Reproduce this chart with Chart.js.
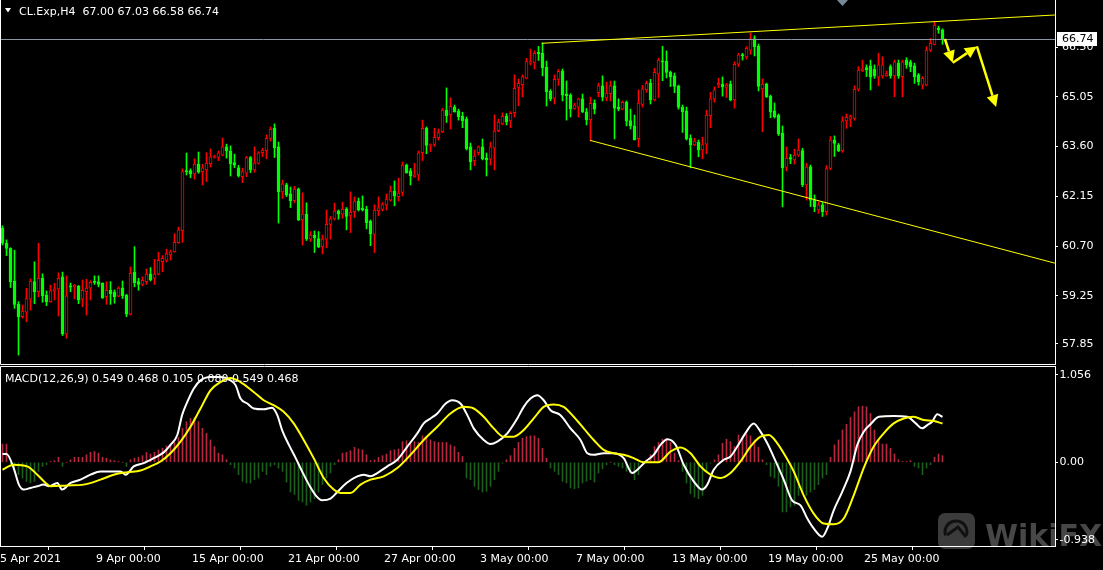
<!DOCTYPE html>
<html>
<head>
<meta charset="utf-8">
<script src="https://cdn.jsdelivr.net/npm/chart.js@4.4.1/dist/chart.umd.min.js"></script>
<style>
  html, body { margin: 0; padding: 0; background: #000; }
  #wrap { position: relative; width: 1103px; height: 570px; background: #000; overflow: hidden; }
  #price { position: absolute; left: 0; top: 0; }
  #macd { position: absolute; left: 0; top: 365px; }
</style>
</head>
<body>
<div id="wrap">
  <canvas id="price" width="1103" height="365"></canvas>
  <canvas id="macd" width="1103" height="205"></canvas>
</div>
<script>
// CL.Exp H4 candles, bar 0 = 5 Apr 2021 00:00
const opens = [
  61.22,60.78,60.63,59.68,59.00,58.64,58.77,59.15,59.66,59.37,
  59.76,59.27,59.08,59.39,59.45,59.80,58.14,59.54,59.51,59.53,
  59.15,59.37,59.47,59.66,59.66,59.61,59.22,59.41,59.36,59.24,
  59.47,59.27,58.71,59.94,59.66,59.58,59.66,59.88,59.76,59.88,
  60.24,60.29,60.44,60.53,60.80,61.15,62.89,62.90,62.80,63.09,
  62.87,62.92,63.10,63.28,63.28,63.35,63.59,63.47,63.13,62.98,
  62.72,62.82,63.28,62.92,63.11,63.42,63.48,63.84,64.13,63.59,
  62.28,62.48,62.22,62.02,62.36,61.46,61.63,60.91,61.02,60.92,
  60.68,60.90,61.33,61.49,61.72,61.63,61.78,61.59,61.70,62.01,
  61.80,61.78,61.43,61.04,61.73,61.77,61.90,62.04,62.30,62.14,
  62.26,63.06,62.89,62.72,62.77,63.42,64.14,63.63,63.66,63.86,
  64.03,64.66,64.53,64.75,64.63,64.48,64.40,63.59,63.19,63.42,
  63.59,63.27,63.23,63.55,64.06,64.26,64.49,64.35,64.59,65.32,
  65.40,65.59,66.03,66.05,66.35,66.32,65.91,65.22,65.01,65.56,
  65.80,65.13,65.10,64.71,64.75,64.99,64.61,64.38,64.87,65.17,
  65.37,65.02,65.14,65.37,64.75,64.69,64.89,64.36,64.20,63.83,
  64.83,65.25,65.44,64.96,65.72,66.09,66.09,65.77,65.66,65.37,
  64.75,64.64,63.84,63.65,63.72,63.50,63.67,64.50,64.99,65.39,
  65.42,65.32,65.42,64.96,66.00,66.28,66.21,66.41,66.75,66.53,
  65.28,65.42,65.07,64.64,64.52,63.99,62.99,63.28,63.21,63.35,
  63.48,62.48,63.01,62.04,61.75,61.90,61.70,62.96,63.79,63.65,
  63.48,64.35,64.40,64.42,65.27,65.81,65.90,65.95,65.85,65.62,
  65.66,65.66,65.93,65.66,66.03,65.64,66.12,66.07,65.95,65.69,
  65.39,65.39,66.41,66.58,67.05,67.00
];
const highs = [
  61.29,60.88,60.65,60.58,59.08,58.98,59.47,59.74,60.24,60.78,
  59.89,59.39,59.56,59.61,59.92,59.94,59.83,59.62,59.58,59.55,
  59.71,59.73,59.69,59.83,59.83,59.63,59.66,59.66,59.42,59.51,
  59.68,59.29,60.09,60.68,59.76,59.80,60.03,60.07,60.31,60.52,
  60.42,60.61,60.58,61.06,61.25,62.95,63.41,62.95,63.24,63.44,
  63.08,63.42,63.53,63.35,63.47,63.85,63.67,63.62,63.38,63.05,
  62.97,63.31,63.31,63.59,63.45,63.55,63.94,64.17,64.26,63.73,
  62.62,62.53,62.42,62.44,62.39,62.25,61.96,61.12,61.14,61.12,
  61.02,61.75,61.56,61.95,61.75,61.98,61.82,62.28,62.13,62.10,
  62.16,61.86,61.46,61.90,62.13,61.97,62.22,62.45,62.60,62.68,
  63.15,63.09,62.96,63.11,63.47,64.37,64.17,63.68,64.13,64.11,
  64.71,65.31,65.02,64.81,64.69,64.60,64.46,63.70,63.50,63.62,
  63.82,63.41,63.73,64.52,64.40,64.58,64.56,64.62,65.69,65.57,
  65.69,66.17,66.44,66.39,66.52,66.62,66.09,65.26,65.69,65.85,
  65.86,65.51,65.14,64.86,65.01,65.13,64.71,65.04,64.96,65.45,
  65.66,65.48,65.51,65.51,64.99,64.93,64.93,64.69,64.52,65.25,
  65.38,65.51,65.56,65.88,66.17,66.52,66.39,65.80,65.74,65.39,
  64.81,64.75,63.94,63.84,63.79,63.87,64.66,65.18,65.34,65.59,
  65.63,65.44,65.51,66.07,66.32,66.32,66.51,66.91,66.83,66.59,
  65.57,65.45,65.10,64.87,64.55,64.20,63.59,63.37,63.52,63.82,
  63.55,63.11,63.06,62.19,61.99,61.97,63.04,63.89,63.91,63.69,
  64.47,64.55,64.52,65.37,65.93,66.12,65.98,66.12,65.98,66.32,
  66.22,65.80,65.98,66.12,66.12,66.12,66.19,66.12,66.03,65.73,
  65.64,66.51,66.75,67.24,67.11,67.03
];
const lows = [
  60.73,60.42,59.49,58.88,57.52,58.60,58.49,58.83,59.02,59.22,
  59.06,58.96,59.06,59.13,58.66,58.09,58.01,59.37,59.16,59.02,
  58.93,58.69,59.13,59.58,59.51,59.17,59.00,59.00,59.03,59.22,
  59.17,58.64,58.69,59.51,59.41,59.54,59.58,59.68,59.58,59.86,
  59.95,60.24,60.29,60.52,60.78,60.81,62.77,62.69,62.65,62.82,
  62.48,62.58,63.00,63.26,63.19,63.33,63.26,62.74,62.98,62.71,
  62.55,62.72,62.84,62.85,63.09,63.31,63.24,63.76,63.28,61.37,
  62.09,62.14,61.82,61.96,61.44,60.73,60.86,60.83,60.51,60.65,
  60.47,60.65,60.90,61.46,61.48,61.51,61.17,61.09,61.53,61.72,
  61.72,61.20,60.71,60.51,61.58,61.72,61.75,62.01,61.87,62.01,
  62.16,62.82,62.48,62.70,62.61,63.19,63.39,63.45,63.60,63.79,
  64.01,64.30,64.11,64.60,64.37,64.15,63.50,62.92,63.04,63.35,
  63.21,62.74,63.06,62.92,64.03,64.23,64.23,64.15,64.46,64.79,
  65.05,65.57,65.98,65.86,66.11,65.66,64.78,64.93,64.84,65.38,
  64.93,64.37,64.46,64.69,64.46,64.59,64.23,63.76,64.55,65.05,
  64.93,64.93,64.93,63.82,64.64,64.67,64.20,64.11,63.79,63.59,
  64.75,65.18,64.84,64.93,65.03,65.52,65.60,65.35,65.17,64.69,
  64.01,63.79,62.98,63.62,63.30,63.24,63.39,64.15,64.89,65.32,
  65.07,65.03,64.93,64.72,65.93,66.12,66.15,66.29,66.24,65.22,
  64.03,65.03,64.44,64.43,63.92,61.84,62.89,63.10,63.09,63.31,
  62.43,62.04,61.85,61.70,61.65,61.56,61.60,62.92,63.31,63.45,
  63.43,64.13,64.18,64.37,65.22,65.78,65.64,65.25,65.59,65.37,
  65.59,65.64,65.59,65.05,65.59,65.05,65.88,65.78,65.44,65.39,
  65.28,65.37,66.37,66.56,66.90,66.58
];
const closes = [
  60.78,60.63,59.66,59.00,58.64,58.80,59.17,59.68,59.37,59.76,
  59.25,59.08,59.39,59.45,59.76,58.14,59.25,59.51,59.56,59.13,
  59.41,59.47,59.64,59.64,59.58,59.19,59.41,59.31,59.22,59.47,
  59.25,58.71,59.90,59.63,59.58,59.70,59.88,59.71,59.88,60.28,
  60.34,60.47,60.53,60.81,61.17,62.87,62.87,62.80,63.09,62.85,
  62.98,63.12,63.30,63.31,63.42,63.59,63.47,63.10,63.06,62.74,
  62.87,63.28,62.92,63.12,63.42,63.50,63.84,64.11,63.57,62.28,
  62.51,62.19,62.02,62.36,61.46,61.63,60.91,61.02,60.94,60.68,
  60.90,61.33,61.49,61.72,61.63,61.77,61.56,61.68,62.01,61.75,
  61.75,61.38,61.05,61.75,61.81,61.91,62.07,62.30,62.16,62.24,
  63.06,62.84,62.75,62.77,63.42,64.13,63.63,63.66,63.87,64.01,
  64.66,64.50,64.77,64.62,64.47,64.35,63.54,63.16,63.32,63.59,
  63.24,63.21,63.59,64.05,64.31,64.48,64.32,64.57,65.30,65.44,
  65.63,66.08,66.08,66.32,66.30,65.90,65.20,64.99,65.56,65.79,
  65.10,65.08,64.70,64.81,64.99,64.62,64.38,64.86,64.69,65.37,
  65.04,65.16,65.37,64.72,64.69,64.89,64.34,64.20,63.79,64.87,
  65.28,65.44,64.96,65.76,66.12,66.07,65.76,65.64,65.35,64.75,
  64.62,63.82,63.65,63.76,63.50,63.66,64.52,64.99,65.25,65.44,
  65.34,65.39,64.96,66.00,66.27,66.25,66.46,66.75,66.51,65.35,
  65.42,65.05,64.62,64.46,63.97,62.98,63.26,63.23,63.35,63.50,
  62.48,63.01,62.04,61.85,61.90,61.70,62.96,63.79,63.69,63.48,
  64.35,64.45,64.47,65.27,65.83,65.86,65.83,65.62,65.66,65.98,
  65.98,65.73,65.66,66.07,65.66,66.07,65.98,65.93,65.64,65.49,
  65.59,66.41,66.61,67.14,67.00,66.74
];

// MACD(12,26,9) histogram, one value per bar
const macdHist = [
  0.22,0.22,-0.02,-0.06,-0.15,-0.19,-0.23,-0.25,-0.23,-0.11,
  -0.05,-0.03,0.01,0.02,0.06,-0.05,0.00,0.03,0.06,0.06,
  0.06,0.09,0.12,0.13,0.11,0.06,0.05,0.03,0.02,0.01,
  0.00,-0.05,0.03,0.05,0.06,0.08,0.12,0.10,0.12,0.15,
  0.17,0.20,0.21,0.24,0.30,0.41,0.49,0.53,0.54,0.49,
  0.41,0.35,0.27,0.19,0.11,0.09,0.03,-0.03,-0.07,-0.15,
  -0.23,-0.25,-0.25,-0.21,-0.19,-0.11,-0.15,-0.05,-0.03,-0.07,
  -0.11,-0.24,-0.36,-0.39,-0.46,-0.48,-0.52,-0.48,-0.44,-0.36,
  -0.27,-0.19,-0.13,-0.03,0.03,0.11,0.12,0.14,0.18,0.16,
  0.15,0.09,0.02,0.03,0.06,0.08,0.10,0.14,0.15,0.16,
  0.25,0.26,0.23,0.25,0.24,0.32,0.31,0.27,0.25,0.24,
  0.24,0.24,0.21,0.19,0.12,0.07,-0.19,-0.21,-0.29,-0.33,
  -0.36,-0.35,-0.29,-0.21,-0.11,-0.01,0.03,0.08,0.17,0.24,
  0.29,0.31,0.32,0.32,0.29,0.17,0.05,-0.07,-0.11,-0.15,
  -0.23,-0.25,-0.31,-0.32,-0.31,-0.25,-0.23,-0.21,-0.24,-0.13,
  -0.08,-0.03,0.00,-0.03,-0.05,-0.07,-0.11,-0.13,-0.21,-0.15,
  0.01,0.03,0.09,0.19,0.24,0.28,0.28,0.24,0.11,0.02,
  -0.11,-0.25,-0.38,-0.42,-0.44,-0.40,-0.11,-0.01,0.03,0.09,
  0.23,0.28,0.25,0.19,0.33,0.31,0.34,0.32,0.27,0.18,
  0.03,-0.03,-0.17,-0.19,-0.29,-0.60,-0.60,-0.54,-0.52,-0.40,
  -0.38,-0.40,-0.36,-0.33,-0.27,-0.19,-0.15,0.06,0.21,0.27,
  0.39,0.46,0.54,0.61,0.67,0.68,0.67,0.59,0.39,0.26,
  0.22,0.22,0.17,0.10,0.03,0.01,0.01,0.02,-0.05,-0.07,
  -0.15,-0.07,-0.03,0.06,0.10,0.08
];
// MACD main (white) read at these bar positions
const mainBars = [0,1,2.8,4.1,5.3,7,8.7,10.3,11.6,13.7,14.9,17,19.5,22,24.5,27.8,29.5,30.8,32.8,35.3,37.8,40.3,42,43.7,44.9,46.2,47.8,49.5,52,54.5,57,58.3,59.5,61.2,62.8,65.3,67.4,68.7,69.9,71.6,73.3,74.9,76.6,78.3,79.9,82,83.7,86,88.7,90.3,92,93.7,96.2,98.7,101.2,103.7,105.3,107,108.7,110.8,112.4,114.5,116.2,117.8,120.3,122,123.7,126.2,128.7,130.3,132,133.7,135.3,137,139.5,142,144.5,146.2,147.8,150.3,152.8,155.3,157.4,158.7,160.8,162.8,164.5,166.2,168.3,170.3,172.8,174.9,176.2,177.8,180.3,182,183.7,185.7,187.8,189.5,191.2,193.3,195.3,197.4,199.5,201.2,202.8,204.9,206.2,207.8,209.9,212,213.7,215.3,217,219.1,222.8,226.2,228.3,229.9,231.2,232.4,233.7,235];
const mainVals = [0.10,0.10,-0.07,-0.27,-0.33,-0.31,-0.29,-0.27,-0.29,-0.25,-0.33,-0.25,-0.21,-0.15,-0.11,-0.11,-0.11,-0.15,-0.05,-0.01,0.05,0.12,0.21,0.33,0.57,0.73,0.89,0.99,1.03,1.03,0.99,0.93,0.77,0.71,0.65,0.64,0.66,0.57,0.39,0.21,0.05,-0.11,-0.27,-0.40,-0.46,-0.44,-0.36,-0.25,-0.17,-0.15,-0.17,-0.13,-0.05,0.03,0.19,0.35,0.47,0.53,0.59,0.71,0.75,0.71,0.57,0.41,0.27,0.22,0.25,0.35,0.53,0.67,0.77,0.81,0.75,0.63,0.57,0.41,0.27,0.11,0.09,0.11,0.11,0.05,-0.13,-0.09,0.01,0.09,0.21,0.28,0.21,-0.03,-0.23,-0.33,-0.27,-0.09,0.03,0.07,0.19,0.35,0.47,0.37,0.23,0.01,-0.21,-0.46,-0.52,-0.68,-0.80,-0.90,-0.80,-0.58,-0.36,-0.11,0.21,0.37,0.46,0.55,0.56,0.55,0.47,0.41,0.45,0.49,0.58,0.549];
// MACD signal (yellow) read at these bar positions
const sigBars = [0,2.8,6.2,8.7,10.8,12,16.2,20.3,24.5,27.8,31.2,34.5,37,39.5,42,44.5,47,49.5,52,54.5,57,59.5,62.8,65.3,67.8,70.3,72.8,75.3,77.8,80.3,82.8,84.5,87,89.5,92,95.3,98.7,102,105.3,108.7,112,115.3,117.8,120.3,122.8,125.3,127.8,130.3,132.8,135.3,137.8,140.3,142.8,145.3,147.8,150.3,152.8,155.3,157.8,160.2,164,167,169.5,172,174.5,177,179.5,182,184.5,187,189.5,191.6,193.7,195.8,197.8,200.3,202.8,205.3,207.8,210.3,212.8,215.3,217.8,220.3,222.8,225.3,227.8,230.3,232.8,235];
const sigVals = [-0.09,-0.03,-0.05,-0.15,-0.25,-0.29,-0.28,-0.27,-0.21,-0.15,-0.12,-0.10,-0.05,0.01,0.11,0.25,0.43,0.65,0.87,0.97,1.02,0.97,0.85,0.75,0.69,0.61,0.47,0.27,0.05,-0.19,-0.33,-0.37,-0.37,-0.27,-0.21,-0.17,-0.07,0.09,0.27,0.43,0.59,0.67,0.65,0.55,0.41,0.31,0.31,0.39,0.53,0.67,0.70,0.67,0.55,0.41,0.27,0.15,0.11,0.09,0.05,0.00,0.00,0.13,0.18,0.11,-0.05,-0.15,-0.19,-0.13,0.01,0.19,0.31,0.33,0.23,0.07,-0.11,-0.40,-0.62,-0.74,-0.75,-0.68,-0.40,-0.07,0.19,0.35,0.47,0.53,0.55,0.51,0.50,0.468];

// axis labels
const priceTicks = [66.50, 65.05, 63.60, 62.15, 60.70, 59.25, 57.85];
const macdTicks = [1.056, 0, -0.938];
const macdTickText = ['1.056', '0.00', '-0.938'];
const dateBars = [0, 24, 48, 72, 96, 120, 144, 168, 192, 216];
const dateText = ['5 Apr 2021', '9 Apr 00:00', '15 Apr 00:00', '21 Apr 00:00', '27 Apr 00:00',
  '3 May 00:00', '7 May 00:00', '13 May 00:00', '19 May 00:00', '25 May 00:00'];

// drawn objects: bid line, two trend lines, zigzag arrow (bar index, price)
const bidPrice = 66.74;
const trendFromBar = [134.8, 146.9];
const trendFromPrice = [66.61, 63.78];
const trendToBar = [263.1, 263.1];
const trendToPrice = [67.435, 60.20];
const arrowBars = [235.6, 237.55, 243.6, 248.4];
const arrowPrices = [66.735, 66.04, 66.52, 64.75];

const priceTitle = 'CL.Exp,H4  67.00 67.03 66.58 66.74';
const macdTitle = 'MACD(12,26,9) 0.549 0.468 0.105 0.080 0.549 0.468';

const UP = '#ff0000', DOWN = '#00ff00';
const X_MIN = -0.625, X_MAX = 263.125;
const FONT = 'DejaVu Sans';

Chart.defaults.font.family = FONT;
Chart.defaults.font.size = 11;
Chart.defaults.color = '#ffffff';

const isUp = closes.map((c, i) => c >= opens[i]);

function arrow(ctx, x0, y0, x1, y1) {
  const a = Math.atan2(y1 - y0, x1 - x0), L = 12, W = 6;
  const bx = x1 - L * Math.cos(a), by = y1 - L * Math.sin(a);
  ctx.beginPath(); ctx.moveTo(x0, y0); ctx.lineTo(bx, by); ctx.stroke();
  ctx.beginPath();
  ctx.moveTo(x1, y1);
  ctx.lineTo(bx + W * Math.sin(a), by - W * Math.cos(a));
  ctx.lineTo(bx - W * Math.sin(a), by + W * Math.cos(a));
  ctx.closePath(); ctx.fill();
}

const priceDecor = {
  id: 'priceDecor',
  afterDatasetsDraw(chart) {
    const { ctx, chartArea: a, scales: { x, y } } = chart;
    ctx.save();
    // bid line
    const by = Math.round(y.getPixelForValue(bidPrice)) + 0.5;
    ctx.strokeStyle = '#8a96a4';
    ctx.lineWidth = 1;
    ctx.beginPath(); ctx.moveTo(a.left, by); ctx.lineTo(a.right, by); ctx.stroke();

    ctx.beginPath();
    ctx.rect(a.left, a.top, a.right - a.left, a.bottom - a.top);
    ctx.clip();
    ctx.strokeStyle = '#ffff00';
    ctx.fillStyle = '#ffff00';
    ctx.lineWidth = 1;
    trendFromBar.forEach((b, k) => {
      ctx.beginPath();
      ctx.moveTo(x.getPixelForValue(b), y.getPixelForValue(trendFromPrice[k]));
      ctx.lineTo(x.getPixelForValue(trendToBar[k]), y.getPixelForValue(trendToPrice[k]));
      ctx.stroke();
    });
    ctx.lineWidth = 2.5;
    for (let k = 0; k < arrowBars.length - 1; k++) {
      arrow(ctx,
        x.getPixelForValue(arrowBars[k]), y.getPixelForValue(arrowPrices[k]),
        x.getPixelForValue(arrowBars[k + 1]), y.getPixelForValue(arrowPrices[k + 1]));
    }
    ctx.restore();
  },
  afterDraw(chart) {
    const { ctx, chartArea: a, scales: { y } } = chart;
    ctx.save();
    // frame
    ctx.strokeStyle = '#ffffff';
    ctx.lineWidth = 1;
    ctx.beginPath();
    ctx.moveTo(0.5, 0); ctx.lineTo(0.5, a.bottom - 0.5);
    ctx.lineTo(a.right + 1, a.bottom - 0.5);
    ctx.stroke();
    // chart shift marker
    ctx.fillStyle = '#778899';
    ctx.beginPath(); ctx.moveTo(837, 0); ctx.lineTo(848, 0); ctx.lineTo(842.5, 6); ctx.closePath(); ctx.fill();
    // title
    ctx.fillStyle = '#ffffff';
    ctx.beginPath(); ctx.moveTo(5, 8); ctx.lineTo(11, 8); ctx.lineTo(8, 12.5); ctx.closePath(); ctx.fill();
    ctx.font = '11px "' + FONT + '"';
    ctx.textBaseline = 'alphabetic';
    ctx.fillText(priceTitle, 19, 15);
    // bid price box on the axis
    const by = Math.round(y.getPixelForValue(bidPrice));
    ctx.fillStyle = '#ffffff';
    ctx.fillRect(a.right + 2, by - 7, 40, 14);
    ctx.fillStyle = '#000000';
    ctx.textBaseline = 'middle';
    ctx.fillText(bidPrice.toFixed(2), a.right + 7, by + 0.5);
    ctx.restore();
  }
};

const macdDecor = {
  id: 'macdDecor',
  beforeDraw(chart) {
    const { ctx } = chart;
    ctx.save();
    ctx.fillStyle = '#3b3b3b';
    ctx.beginPath();
    ctx.roundRect(938, 148, 37, 36, 7);
    ctx.fill();
    ctx.strokeStyle = '#111111';
    ctx.lineWidth = 3;
    ctx.beginPath(); ctx.arc(956, 167, 11, Math.PI * 0.9, Math.PI * 2.1); ctx.stroke();
    ctx.beginPath(); ctx.moveTo(947, 170); ctx.lineTo(958, 162); ctx.lineTo(966, 172); ctx.stroke();
    ctx.fillStyle = '#474747';
    ctx.font = 'bold 30px "' + FONT + '"';
    ctx.textBaseline = 'alphabetic';
    ctx.fillText('WikiFX', 985, 181);
    ctx.restore();
  },
  afterDraw(chart) {
    const { ctx, chartArea: a } = chart;
    ctx.save();
    ctx.strokeStyle = '#ffffff';
    ctx.lineWidth = 1;
    ctx.beginPath();
    ctx.moveTo(0.5, a.bottom); ctx.lineTo(0.5, a.top + 0.5); ctx.lineTo(a.right + 1, a.top + 0.5);
    ctx.stroke();
    ctx.fillStyle = '#ffffff';
    ctx.font = '11px "' + FONT + '"';
    ctx.textBaseline = 'alphabetic';
    ctx.fillText(macdTitle, 5, 17);
    ctx.restore();
  }
};

new Chart(document.getElementById('price'), {
  type: 'bar',
  data: {
    datasets: [
      {
        label: 'body',
        data: opens.map((o, i) => ({ x: i, y: [o, closes[i]] })),
        backgroundColor: isUp.map(u => (u ? '#000000' : DOWN)),
        borderColor: isUp.map(u => (u ? UP : DOWN)),
        borderWidth: 1,
        borderSkipped: false,
        barThickness: 3,
        minBarLength: 1,
        grouped: false,
        order: 1
      },
      {
        label: 'wick',
        data: lows.map((l, i) => ({ x: i, y: [l, highs[i]] })),
        backgroundColor: isUp.map(u => (u ? UP : DOWN)),
        borderWidth: 0,
        barThickness: 1,
        grouped: false,
        order: 2
      }
    ]
  },
  options: {
    responsive: false,
    animation: false,
    devicePixelRatio: 1,
    layout: { padding: 0 },
    plugins: { legend: { display: false }, tooltip: { enabled: false } },
    scales: {
      x: { type: 'linear', min: X_MIN, max: X_MAX, offset: false, display: false },
      y: {
        position: 'right',
        min: 57.231,
        max: 67.872,
        afterBuildTicks: s => { s.ticks = priceTicks.map(v => ({ value: v })); },
        afterFit: s => { s.width = 48; s.paddingTop = 0; s.paddingBottom = 0; },
        ticks: { color: '#ffffff', padding: 4, callback: v => v.toFixed(2) },
        grid: { drawOnChartArea: false, drawTicks: true, tickLength: 3, color: '#ffffff' },
        border: { display: true, color: '#ffffff' }
      }
    }
  },
  plugins: [priceDecor]
});

new Chart(document.getElementById('macd'), {
  type: 'bar',
  data: {
    datasets: [
      {
        type: 'line',
        label: 'signal',
        data: sigBars.map((b, i) => ({ x: b, y: sigVals[i] })),
        borderColor: '#ffff00',
        borderWidth: 2,
        pointRadius: 0,
        cubicInterpolationMode: 'monotone',
        order: 0
      },
      {
        type: 'line',
        label: 'main',
        data: mainBars.map((b, i) => ({ x: b, y: mainVals[i] })),
        borderColor: '#ffffff',
        borderWidth: 2,
        pointRadius: 0,
        cubicInterpolationMode: 'monotone',
        order: 1
      },
      {
        label: 'hist',
        data: macdHist.map((v, i) => ({ x: i, y: v })),
        backgroundColor: macdHist.map(v => (v >= 0 ? '#b8283f' : '#1c5e1c')),
        barThickness: 1,
        grouped: false,
        order: 2
      }
    ]
  },
  options: {
    responsive: false,
    animation: false,
    devicePixelRatio: 1,
    layout: { padding: { top: 1 } },
    plugins: { legend: { display: false }, tooltip: { enabled: false } },
    scales: {
      x: {
        type: 'linear',
        min: X_MIN,
        max: X_MAX,
        offset: false,
        afterBuildTicks: s => { s.ticks = dateBars.map(b => ({ value: b - 0.6 })); },
        afterFit: s => { s.height = 24; s.paddingLeft = 0; s.paddingRight = 0; },
        ticks: {
          autoSkip: false, maxRotation: 0, minRotation: 0, align: 'start', padding: 3,
          color: '#ffffff', callback: (v, i) => dateText[i]
        },
        grid: { drawOnChartArea: false, drawTicks: true, tickLength: 4, color: '#ffffff' },
        border: { display: true, color: '#ffffff' }
      },
      y: {
        position: 'right',
        min: -1.012,
        max: 1.164,
        afterBuildTicks: s => { s.ticks = macdTicks.map(v => ({ value: v })); },
        afterFit: s => { s.width = 48; s.paddingTop = 0; s.paddingBottom = 0; },
        ticks: { color: '#ffffff', padding: 1.5, callback: (v, i) => macdTickText[i] },
        grid: { drawOnChartArea: false, drawTicks: true, tickLength: 3, color: '#ffffff' },
        border: { display: true, color: '#ffffff' }
      }
    }
  },
  plugins: [macdDecor]
});
</script>
</body>
</html>
